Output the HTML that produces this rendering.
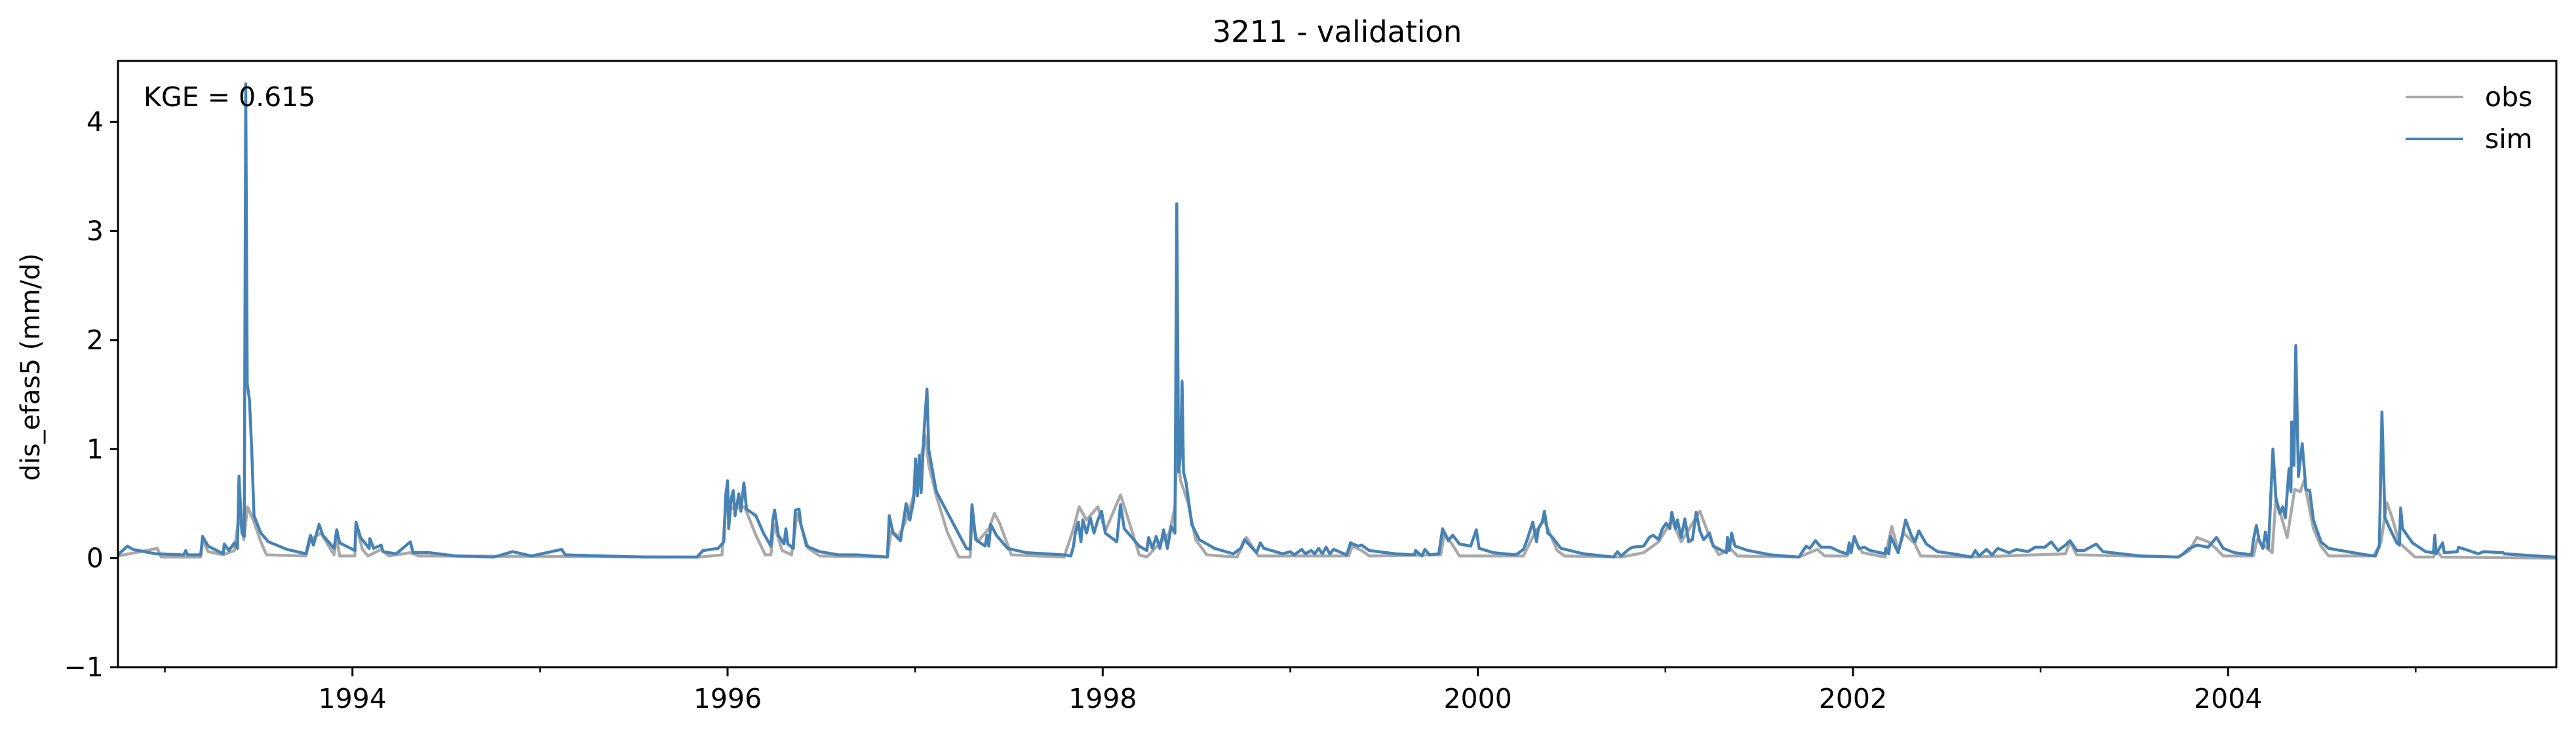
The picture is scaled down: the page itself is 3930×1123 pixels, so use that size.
<!DOCTYPE html>
<html><head><meta charset="utf-8"><style>
html,body{margin:0;padding:0;background:#fff;}
svg text{font-family:"DejaVu Sans","Liberation Sans",sans-serif;fill:#000;}
</style></head><body>
<svg id="chart" width="3930" height="1118" viewBox="0 0 3930 1118" xmlns="http://www.w3.org/2000/svg">
<rect width="3930" height="1118" fill="#fff"/>
<text x="2040" y="64" font-size="45" text-anchor="middle">3211 - validation</text>
<text transform="translate(60,560) rotate(-90)" font-size="40" text-anchor="middle">dis_efas5 (mm/d)</text>
<defs><clipPath id="plotclip"><rect x="180" y="93" width="3720" height="925"/></clipPath></defs>
<g id="series" clip-path="url(#plotclip)"></g>
<g id="axes"></g>
<text x="219" y="162" font-size="41">KGE = 0.615</text>
<g>
<line x1="3670" y1="148" x2="3758" y2="148" stroke="#a9a9a9" stroke-width="4"/>
<text x="3791" y="162" font-size="41">obs</text>
<line x1="3670" y1="212" x2="3758" y2="212" stroke="#4682b4" stroke-width="4"/>
<text x="3791" y="226" font-size="41">sim</text>
</g>
</svg>
<script>
const simYears=[1992.750,1992.800,1992.830,1992.950,1993.101,1993.111,1993.121,1993.191,1993.201,1993.231,1993.311,1993.317,1993.341,1993.371,1993.387,1993.395,1993.411,1993.423,1993.431,1993.439,1993.451,1993.463,1993.475,1993.512,1993.552,1993.652,1993.752,1993.776,1993.792,1993.822,1993.842,1993.902,1993.916,1993.932,1994.013,1994.019,1994.043,1994.089,1994.093,1994.113,1994.153,1994.163,1994.233,1994.309,1994.323,1994.413,1994.554,1994.754,1994.854,1994.954,1995.115,1995.135,1995.556,1995.836,
1995.870,1995.950,1995.980,1995.990,1996.000,1996.006,1996.020,1996.030,1996.040,1996.060,1996.071,1996.087,1996.101,1996.151,1996.191,1996.231,1996.241,1996.251,1996.271,1996.301,1996.311,1996.321,1996.351,1996.361,1996.381,1996.391,1996.421,1996.491,1996.592,1996.692,1996.852,1996.862,1996.882,1996.922,1996.952,1996.972,1996.992,1997.002,1997.012,1997.022,1997.032,1997.049,1997.063,1997.073,1997.113,1997.193,1997.273,1997.293,1997.303,1997.323,1997.373,1997.383,1997.393,1997.403,1997.433,1997.493,1997.594,1997.794,1997.830,1997.844,1997.854,1997.870,1997.884,1997.894,1997.914,1997.934,1997.954,1997.974,1997.994,1998.014,1998.075,1998.095,1998.115,1998.195,1998.235,1998.245,1998.265,1998.285,1998.305,1998.325,1998.345,1998.365,1998.385,1998.395,1998.405,1998.415,1998.423,1998.431,1998.445,1998.475,1998.515,1998.596,1998.696,1998.736,1998.756,
1998.820,1998.840,1998.860,1998.960,1999.000,1999.021,1999.061,1999.081,1999.111,1999.131,1999.151,1999.171,1999.191,1999.211,1999.231,1999.301,1999.321,1999.361,1999.381,1999.421,1999.562,1999.662,1999.668,1999.702,1999.718,1999.742,1999.792,1999.812,1999.842,1999.866,1999.902,1999.962,1999.992,2000.007,2000.083,2000.203,2000.243,2000.263,2000.293,2000.313,2000.323,2000.343,2000.355,2000.373,2000.393,2000.443,2000.564,2000.724,2000.744,2000.764,2000.804,2000.824,2000.884,2000.914,2000.934,2000.964,2000.984,2001.004,2001.024,2001.034,2001.054,2001.064,2001.084,2001.104,2001.124,2001.144,2001.164,2001.184,2001.204,2001.235,2001.255,2001.325,2001.331,2001.341,2001.353,2001.371,2001.441,2001.562,2001.712,
2001.750,2001.770,2001.800,2001.830,2001.880,2001.930,2001.970,2001.980,2001.990,2002.007,2002.031,2002.061,2002.091,2002.171,2002.175,2002.191,2002.201,2002.241,2002.261,2002.281,2002.311,2002.331,2002.351,2002.391,2002.451,2002.532,2002.632,2002.652,2002.672,2002.712,2002.742,2002.772,2002.832,2002.872,2002.932,2002.972,2003.023,2003.057,2003.093,2003.133,2003.157,2003.193,2003.233,2003.297,2003.333,2003.534,2003.734,2003.754,2003.794,2003.834,2003.894,2003.938,2003.974,2004.035,2004.085,2004.125,2004.135,2004.151,2004.165,2004.185,2004.199,2004.215,2004.239,2004.255,2004.275,2004.291,2004.305,2004.325,2004.335,2004.339,2004.351,2004.361,2004.375,2004.395,2004.415,2004.435,2004.455,2004.495,2004.536,2004.636,2004.736,2004.786,2004.806,2004.820,2004.836,2004.857,2004.899,2004.913,2004.920,2004.930,2004.983,2005.053,2005.095,2005.102,2005.109,2005.144,2005.152,2005.222,2005.229,2005.334,2005.362,2005.467,2005.474,2005.741,2005.750];
const simValues=[0.03,0.11,0.08,0.04,0.03,0.07,0.03,0.03,0.20,0.11,0.04,0.13,0.07,0.14,0.09,0.75,0.23,0.20,4.35,1.6,1.45,1.0,0.39,0.23,0.15,0.08,0.04,0.21,0.12,0.31,0.21,0.09,0.26,0.14,0.07,0.33,0.19,0.09,0.18,0.09,0.12,0.06,0.04,0.15,0.05,0.05,0.02,0.01,0.06,0.02,0.08,0.03,0.01,0.01,
0.07,0.09,0.15,0.57,0.71,0.27,0.55,0.62,0.39,0.59,0.43,0.69,0.45,0.39,0.23,0.11,0.35,0.44,0.21,0.13,0.27,0.13,0.09,0.44,0.45,0.31,0.11,0.06,0.03,0.03,0.01,0.39,0.23,0.16,0.50,0.35,0.53,0.91,0.57,0.94,0.60,1.21,1.55,0.99,0.61,0.35,0.09,0.08,0.49,0.17,0.11,0.21,0.11,0.31,0.21,0.09,0.05,0.03,0.02,0.11,0.23,0.33,0.15,0.35,0.23,0.37,0.23,0.35,0.43,0.23,0.15,0.49,0.27,0.11,0.07,0.19,0.09,0.20,0.09,0.26,0.09,0.29,0.23,3.25,0.79,0.95,1.62,0.79,0.69,0.31,0.17,0.09,0.04,0.09,0.17,
0.05,0.14,0.09,0.04,0.06,0.03,0.08,0.04,0.07,0.04,0.09,0.04,0.10,0.04,0.08,0.03,0.14,0.11,0.12,0.07,0.04,0.03,0.07,0.02,0.08,0.03,0.04,0.27,0.16,0.21,0.13,0.11,0.26,0.09,0.05,0.03,0.08,0.17,0.33,0.15,0.27,0.33,0.43,0.23,0.20,0.09,0.04,0.01,0.06,0.02,0.08,0.10,0.11,0.19,0.21,0.17,0.27,0.32,0.27,0.42,0.27,0.35,0.19,0.36,0.15,0.17,0.42,0.25,0.17,0.23,0.11,0.05,0.19,0.07,0.23,0.11,0.07,0.03,0.01,
0.11,0.09,0.16,0.10,0.10,0.06,0.04,0.14,0.05,0.20,0.09,0.10,0.07,0.04,0.09,0.04,0.20,0.05,0.19,0.35,0.21,0.15,0.25,0.13,0.06,0.04,0.01,0.07,0.02,0.08,0.03,0.09,0.05,0.08,0.06,0.10,0.10,0.15,0.07,0.12,0.16,0.07,0.07,0.13,0.06,0.02,0.01,0.03,0.09,0.12,0.10,0.19,0.09,0.05,0.04,0.03,0.17,0.30,0.17,0.09,0.24,0.09,1.00,0.55,0.41,0.47,0.37,0.82,0.61,1.25,0.85,1.95,0.75,1.05,0.63,0.62,0.35,0.15,0.09,0.06,0.03,0.02,0.11,1.34,0.37,0.29,0.14,0.12,0.46,0.27,0.14,0.06,0.05,0.21,0.04,0.14,0.05,0.06,0.10,0.04,0.06,0.05,0.04,0.01,0.01];
const obsYears=[1992.750,1992.960,1992.980,1993.191,1993.201,1993.231,1993.311,1993.371,1993.395,1993.421,1993.441,1993.471,1993.512,1993.542,1993.752,1993.776,1993.832,1993.902,1993.916,1993.932,1994.013,1994.019,1994.053,1994.083,1994.153,1994.193,1994.309,1994.353,1995.850,
1995.970,1995.990,1996.091,1996.151,1996.201,1996.231,1996.247,1996.291,1996.341,1996.371,1996.431,1996.491,1996.852,1996.872,1996.912,1996.952,1997.002,1997.053,1997.073,1997.113,1997.173,1997.233,1997.293,1997.303,1997.333,1997.393,1997.423,1997.453,1997.513,1997.794,1997.844,1997.874,1997.914,1997.974,1998.014,1998.095,1998.145,1998.195,1998.235,1998.355,1998.385,1998.395,1998.415,1998.455,1998.495,1998.555,1998.716,1998.766,
1998.830,1999.311,1999.331,1999.381,1999.421,1999.802,1999.822,1999.862,1999.902,2000.243,2000.303,2000.353,2000.423,2000.463,2000.764,2000.884,2000.964,2001.034,2001.084,2001.184,2001.245,2001.285,2001.345,2001.385,2001.712,
2001.810,2001.850,2001.970,2002.007,2002.051,2002.171,2002.207,2002.241,2002.271,2002.331,2002.361,2002.632,2003.133,2003.157,2003.193,2003.734,2003.794,2003.834,2003.894,2003.934,2003.974,2004.135,2004.155,2004.235,2004.255,2004.315,2004.355,2004.385,2004.405,2004.455,2004.495,2004.536,2004.776,2004.816,2004.846,2004.871,2004.913,2004.997,2005.095,2005.109,2005.138,2005.750];
const obsValues=[0.02,0.09,0.01,0.01,0.17,0.06,0.03,0.07,0.40,0.17,0.47,0.35,0.15,0.03,0.02,0.17,0.23,0.03,0.19,0.02,0.02,0.31,0.08,0.02,0.08,0.02,0.05,0.02,0.01,
0.03,0.45,0.47,0.21,0.03,0.03,0.31,0.07,0.03,0.41,0.09,0.02,0.01,0.25,0.20,0.35,0.63,1.13,0.85,0.57,0.23,0.01,0.01,0.35,0.15,0.27,0.41,0.31,0.03,0.01,0.27,0.47,0.35,0.47,0.25,0.58,0.31,0.03,0.01,0.23,0.47,1.0,0.71,0.51,0.17,0.03,0.01,0.19,
0.02,0.02,0.11,0.07,0.02,0.03,0.23,0.13,0.02,0.02,0.23,0.35,0.07,0.02,0.01,0.05,0.15,0.35,0.15,0.43,0.15,0.03,0.09,0.02,0.01,
0.08,0.02,0.02,0.17,0.05,0.01,0.29,0.07,0.23,0.13,0.02,0.01,0.04,0.15,0.03,0.01,0.07,0.19,0.15,0.09,0.02,0.02,0.17,0.05,0.55,0.19,0.63,0.61,0.71,0.27,0.11,0.02,0.02,0.15,0.51,0.39,0.14,0.01,0.01,0.08,0.01,0.00];
const yTicks=[-1,0,1,2,3,4];
const yTickLabels=["\u22121","0","1","2","3","4"];
const xMajorTicks=[1994,1996,1998,2000,2002,2004];
const xMinorTicks=[1993,1995,1997,1999,2001,2003,2005];

const X0=180,X1=3900,Y0=93,Y1=1018,xMin=1992.75,xMax=2005.75,yMin=-1,yMax=4.56;
const xs=v=>X0+(v-xMin)/(xMax-xMin)*(X1-X0);
const ys=v=>Y1-(v-yMin)/(yMax-yMin)*(Y1-Y0);
const NS="http://www.w3.org/2000/svg";
function mk(tag,attrs,parent){const e=document.createElementNS(NS,tag);for(const k in attrs)e.setAttribute(k,attrs[k]);parent.appendChild(e);return e;}
const series=document.getElementById('series'),axes=document.getElementById('axes');
function path(xa,va){return xa.map((x,i)=>(i?'L':'M')+xs(x).toFixed(1)+','+ys(va[i]).toFixed(1)).join('');}
const po=mk('path',{d:path(obsYears,obsValues),fill:'none',stroke:'#a9a9a9','stroke-width':4.5,'stroke-linejoin':'round'},series);


const ps=mk('path',{d:path(simYears,simValues),fill:'none',stroke:'#4682b4','stroke-width':4.5,'stroke-linejoin':'round'},series);


const fr=mk('rect',{x:X0,y:Y0,width:X1-X0,height:Y1-Y0,fill:'none',stroke:'#000','stroke-width':3},axes);


yTicks.forEach((t,i)=>{const y=ys(t);
 const l=mk('line',{x1:X0-12,x2:X0,y1:y,y2:y,stroke:'#000','stroke-width':3},axes);
 
 
 const tx=mk('text',{x:X0-22,y:y+14,'font-size':41,'text-anchor':'end'},axes);tx.textContent=yTickLabels[i];
 
 });
xMajorTicks.forEach(t=>{const x=xs(t);
 const l=mk('line',{x1:x,x2:x,y1:Y1,y2:Y1+14,stroke:'#000','stroke-width':3},axes);
 
 
 const tx=mk('text',{x:x,y:Y1+62,'font-size':41,'text-anchor':'middle'},axes);tx.textContent=String(t);
 
 });
xMinorTicks.forEach(t=>{const x=xs(t);
 const l=mk('line',{x1:x,x2:x,y1:Y1,y2:Y1+8,stroke:'#000','stroke-width':2.5},axes);
 
 });
</script>
</body></html>
